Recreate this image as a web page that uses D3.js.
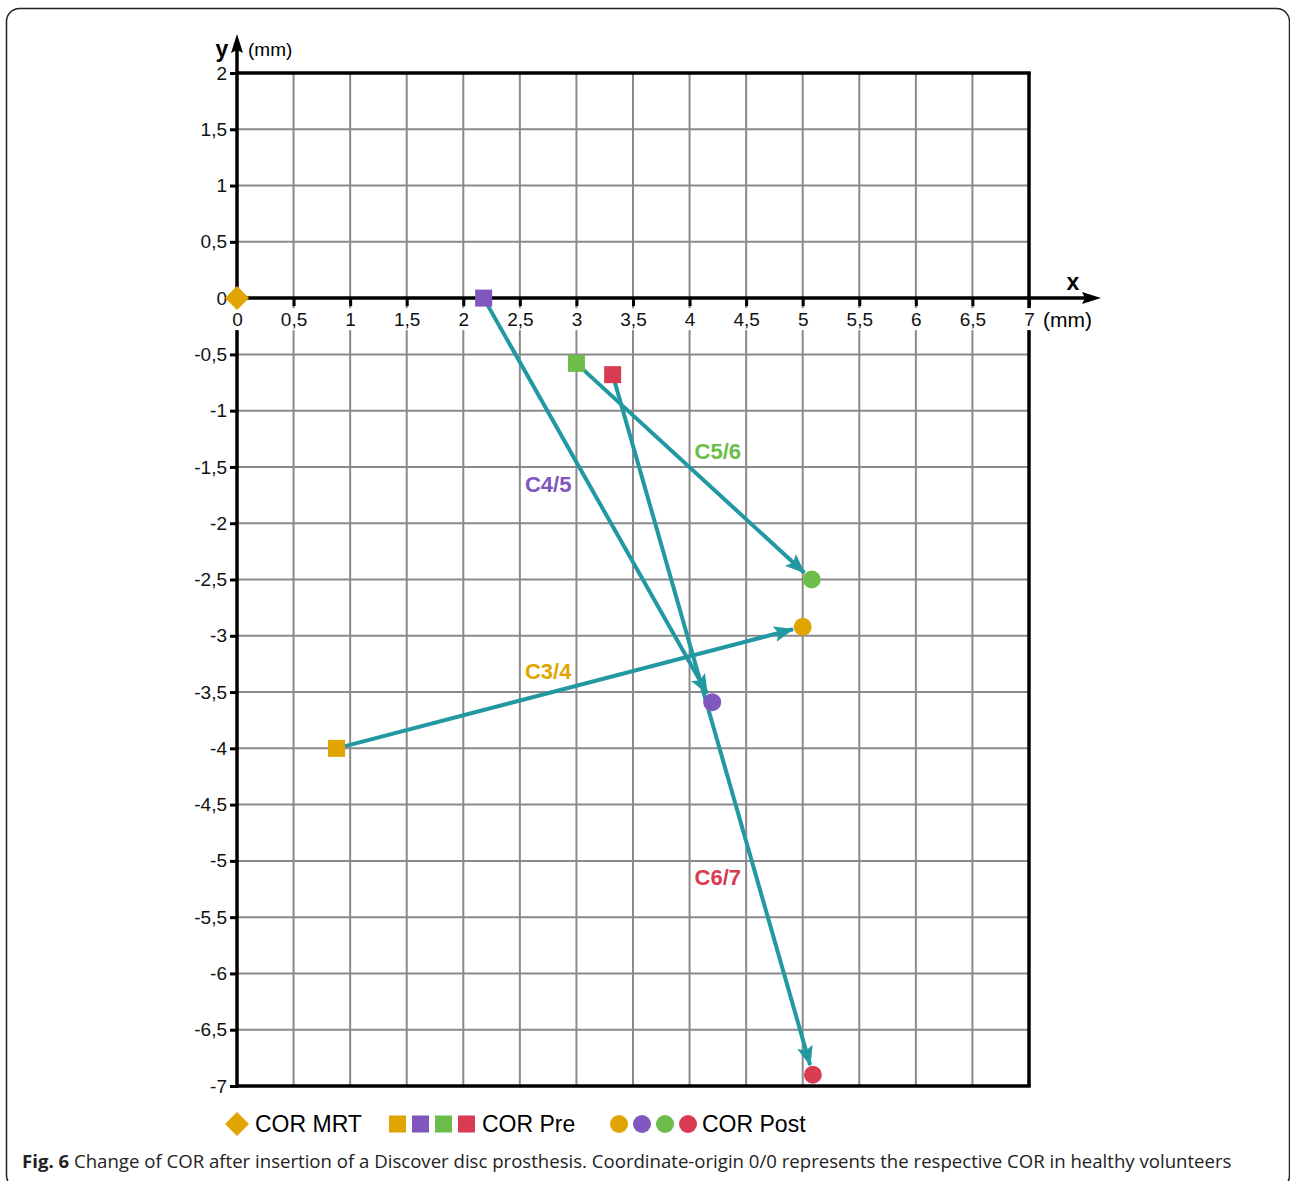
<!DOCTYPE html>
<html>
<head>
<meta charset="utf-8">
<script src="https://cdn.jsdelivr.net/npm/d3@7"></script>
<style>
  body { margin: 0; background: #fff; }
  svg { display: block; }
</style>
</head>
<body>
<script>
// data
var levels = ["C3/4", "C4/5", "C5/6", "C6/7"];
var levelColors = ["#e0a500", "#7f57bf", "#6cbd4a", "#d93b50"];
var preX = [0.88, 2.18, 3.0, 3.32];
var preY = [-4.0, 0.0, -0.58, -0.68];
var postX = [5.0, 4.2, 5.08, 5.09];
var postY = [-2.92, -3.59, -2.5, -6.9];
var labelAtX = [2.75, 2.75, 4.25, 4.25];
var labelAtY = [-3.31, -1.65, -1.36, -5.14];
var mrt = [0, 0];
var xTicks = d3.range(0, 7.01, 0.5);
var yTicks = d3.range(2, -7.01, -0.5);

var width = 1290;
var height = 1181;
var teal = "#2298a2";

var svg = d3.select("body")
    .append("svg")
    .attr("width", width)
    .attr("height", height);

// rounded frame
svg.append("rect")
    .attr("x", 6.5).attr("y", 8.5)
    .attr("width", 1283).attr("height", 1180)
    .attr("rx", 13)
    .attr("fill", "none")
    .attr("stroke", "#222")
    .attr("stroke-width", 1.5);

// scales
var x = d3.scaleLinear().domain([0, 7]).range([237, 1029]);
var y = d3.scaleLinear().domain([2, -7]).range([73, 1086]);

var fmt = function(d) { return String(+d.toFixed(1)).replace(".", ","); };

// grid
var grid = svg.append("g").attr("stroke", "#8a8a8a").attr("stroke-width", 2);
grid.selectAll(".vx").data(xTicks.slice(1, -1)).enter().append("line")
    .attr("x1", d => x(d)).attr("x2", d => x(d))
    .attr("y1", y(2)).attr("y2", y(-7));
grid.selectAll(".hy").data(yTicks.slice(1, -1)).enter().append("line")
    .attr("x1", x(0)).attr("x2", x(7))
    .attr("y1", d => y(d)).attr("y2", d => y(d));

// frame of plot
var frame = svg.append("g").attr("stroke", "#000").attr("stroke-width", 3.5).attr("fill", "none");
frame.append("line").attr("x1", x(0)).attr("x2", x(7) + 1.75).attr("y1", y(2)).attr("y2", y(2));
frame.append("line").attr("x1", x(0)).attr("x2", x(7) + 1.75).attr("y1", y(-7)).attr("y2", y(-7));
frame.append("line").attr("x1", x(7)).attr("x2", x(7)).attr("y1", y(2)).attr("y2", y(-7));
frame.append("line").attr("x1", x(0)).attr("x2", x(0)).attr("y1", 44).attr("y2", y(-7) + 1.75);

// white band behind x tick labels
svg.append("rect")
    .attr("x", x(0) - 8).attr("y", y(0) + 10)
    .attr("width", x(7) - x(0) + 16).attr("height", 22)
    .attr("fill", "#fff");

// x axis
svg.append("line")
    .attr("x1", x(0)).attr("x2", 1088)
    .attr("y1", y(0)).attr("y2", y(0))
    .attr("stroke", "#000").attr("stroke-width", 3.5);
svg.append("path")
    .attr("d", "M1101," + y(0) + "L1082," + (y(0) - 6) + "L1085," + y(0) + "L1082," + (y(0) + 6) + "Z")
    .attr("fill", "#000");
// y axis arrow
svg.append("path")
    .attr("d", "M" + x(0) + ",34L" + (x(0) - 6) + ",53L" + x(0) + ",50L" + (x(0) + 6) + ",53Z")
    .attr("fill", "#000");

var tickFont = "Liberation Sans, Arial, sans-serif";
var xAxis = d3.axisBottom(x).tickValues(xTicks).tickFormat(fmt).tickSize(8).tickPadding(6);
var gx = svg.append("g").attr("transform", "translate(0," + y(0) + ")").call(xAxis);
gx.select(".domain").remove();
gx.selectAll(".tick line").attr("stroke", "#000").attr("stroke-width", 3);
gx.selectAll(".tick text")
    .attr("font-family", tickFont)
    .attr("font-size", "19px").attr("fill", "#111");

var yAxis = d3.axisLeft(y).tickValues(yTicks).tickFormat(fmt).tickSize(7).tickPadding(3);
var gy = svg.append("g").attr("transform", "translate(" + x(0) + ",0)").call(yAxis);
gy.select(".domain").remove();
gy.selectAll(".tick line").attr("stroke", "#000").attr("stroke-width", 3);
gy.selectAll(".tick text")
    .attr("font-family", tickFont)
    .attr("font-size", "19px").attr("fill", "#111");

// axis names
var axisFont = "Liberation Sans, Arial, sans-serif";
svg.append("text").attr("x", 222).attr("y", 57).attr("text-anchor", "middle")
    .attr("font-family", axisFont).attr("font-weight", "bold").attr("font-size", "23px").text("y");
svg.append("text").attr("x", 248).attr("y", 56)
    .attr("font-family", axisFont).attr("font-size", "19px").text("(mm)");
svg.append("text").attr("x", 1073).attr("y", 290).attr("text-anchor", "middle")
    .attr("font-family", axisFont).attr("font-weight", "bold").attr("font-size", "23px").text("x");
svg.append("text").attr("x", 1043).attr("y", 327)
    .attr("font-family", axisFont).attr("font-size", "21px").text("(mm)");

// arrows
svg.append("defs").append("marker")
    .attr("id", "head")
    .attr("markerUnits", "userSpaceOnUse")
    .attr("markerWidth", 22).attr("markerHeight", 16)
    .attr("refX", 19).attr("refY", 8)
    .attr("orient", "auto")
    .append("path")
    .attr("d", "M0,0L20,8L0,16L4,8Z")
    .attr("fill", teal);

var idx = d3.range(levels.length);
svg.selectAll(".move").data(idx).enter().append("line")
    .attr("x1", i => x(preX[i]))
    .attr("y1", i => y(preY[i]))
    .attr("x2", function(i) {
        var dx = x(postX[i]) - x(preX[i]), dy = y(postY[i]) - y(preY[i]);
        var len = Math.sqrt(dx * dx + dy * dy);
        return x(postX[i]) - dx / len * 10;
    })
    .attr("y2", function(i) {
        var dx = x(postX[i]) - x(preX[i]), dy = y(postY[i]) - y(preY[i]);
        var len = Math.sqrt(dx * dx + dy * dy);
        return y(postY[i]) - dy / len * 10;
    })
    .attr("stroke", teal)
    .attr("stroke-width", 4)
    .attr("marker-end", "url(#head)");

// markers
var sq = 17;
svg.selectAll(".pre").data(idx).enter().append("rect")
    .attr("x", i => x(preX[i]) - sq / 2)
    .attr("y", i => y(preY[i]) - sq / 2)
    .attr("width", sq).attr("height", sq)
    .attr("fill", i => levelColors[i]);

svg.selectAll(".post").data(idx).enter().append("circle")
    .attr("cx", i => x(postX[i]))
    .attr("cy", i => y(postY[i]))
    .attr("r", 9)
    .attr("fill", i => levelColors[i]);

var diamond = "M0,-12L12,0L0,12L-12,0Z";
svg.append("path")
    .attr("d", diamond)
    .attr("transform", "translate(" + x(mrt[0]) + "," + y(mrt[1]) + ")")
    .attr("fill", levelColors[0]);

// level labels
svg.selectAll(".lvl").data(idx).enter().append("text")
    .attr("x", i => x(labelAtX[i]))
    .attr("y", i => y(labelAtY[i]) + 8)
    .attr("text-anchor", "middle")
    .attr("font-family", axisFont)
    .attr("font-weight", "bold")
    .attr("font-size", "22px")
    .attr("fill", i => levelColors[i])
    .text(i => levels[i]);

// legend
var ly = 1124;
var legend = svg.append("g");
legend.append("path").attr("d", diamond).attr("transform", "translate(237," + ly + ")").attr("fill", levelColors[0]);
legend.append("text").attr("x", 255).attr("y", ly + 8)
    .attr("font-family", axisFont).attr("font-size", "23px").text("COR MRT");
legend.selectAll(".lsq").data(idx).enter().append("rect")
    .attr("x", i => 389 + i * 23).attr("y", ly - 8.5)
    .attr("width", sq).attr("height", sq)
    .attr("fill", i => levelColors[i]);
legend.append("text").attr("x", 482).attr("y", ly + 8)
    .attr("font-family", axisFont).attr("font-size", "23px").text("COR Pre");
legend.selectAll(".lci").data(idx).enter().append("circle")
    .attr("cx", i => 619 + i * 23).attr("cy", ly)
    .attr("r", 9)
    .attr("fill", i => levelColors[i]);
legend.append("text").attr("x", 702).attr("y", ly + 8)
    .attr("font-family", axisFont).attr("font-size", "23px").text("COR Post");

// caption
var cap = svg.append("text").attr("x", 22).attr("y", 1168)
    .attr("font-family", "Open Sans, sans-serif").attr("font-size", "18.6px").attr("fill", "#222");
cap.append("tspan").attr("font-weight", "bold").text("Fig. 6");
cap.append("tspan").text(" Change of COR after insertion of a Discover disc prosthesis. Coordinate-origin 0/0 represents the respective COR in healthy volunteers");
</script>
</body>
</html>
